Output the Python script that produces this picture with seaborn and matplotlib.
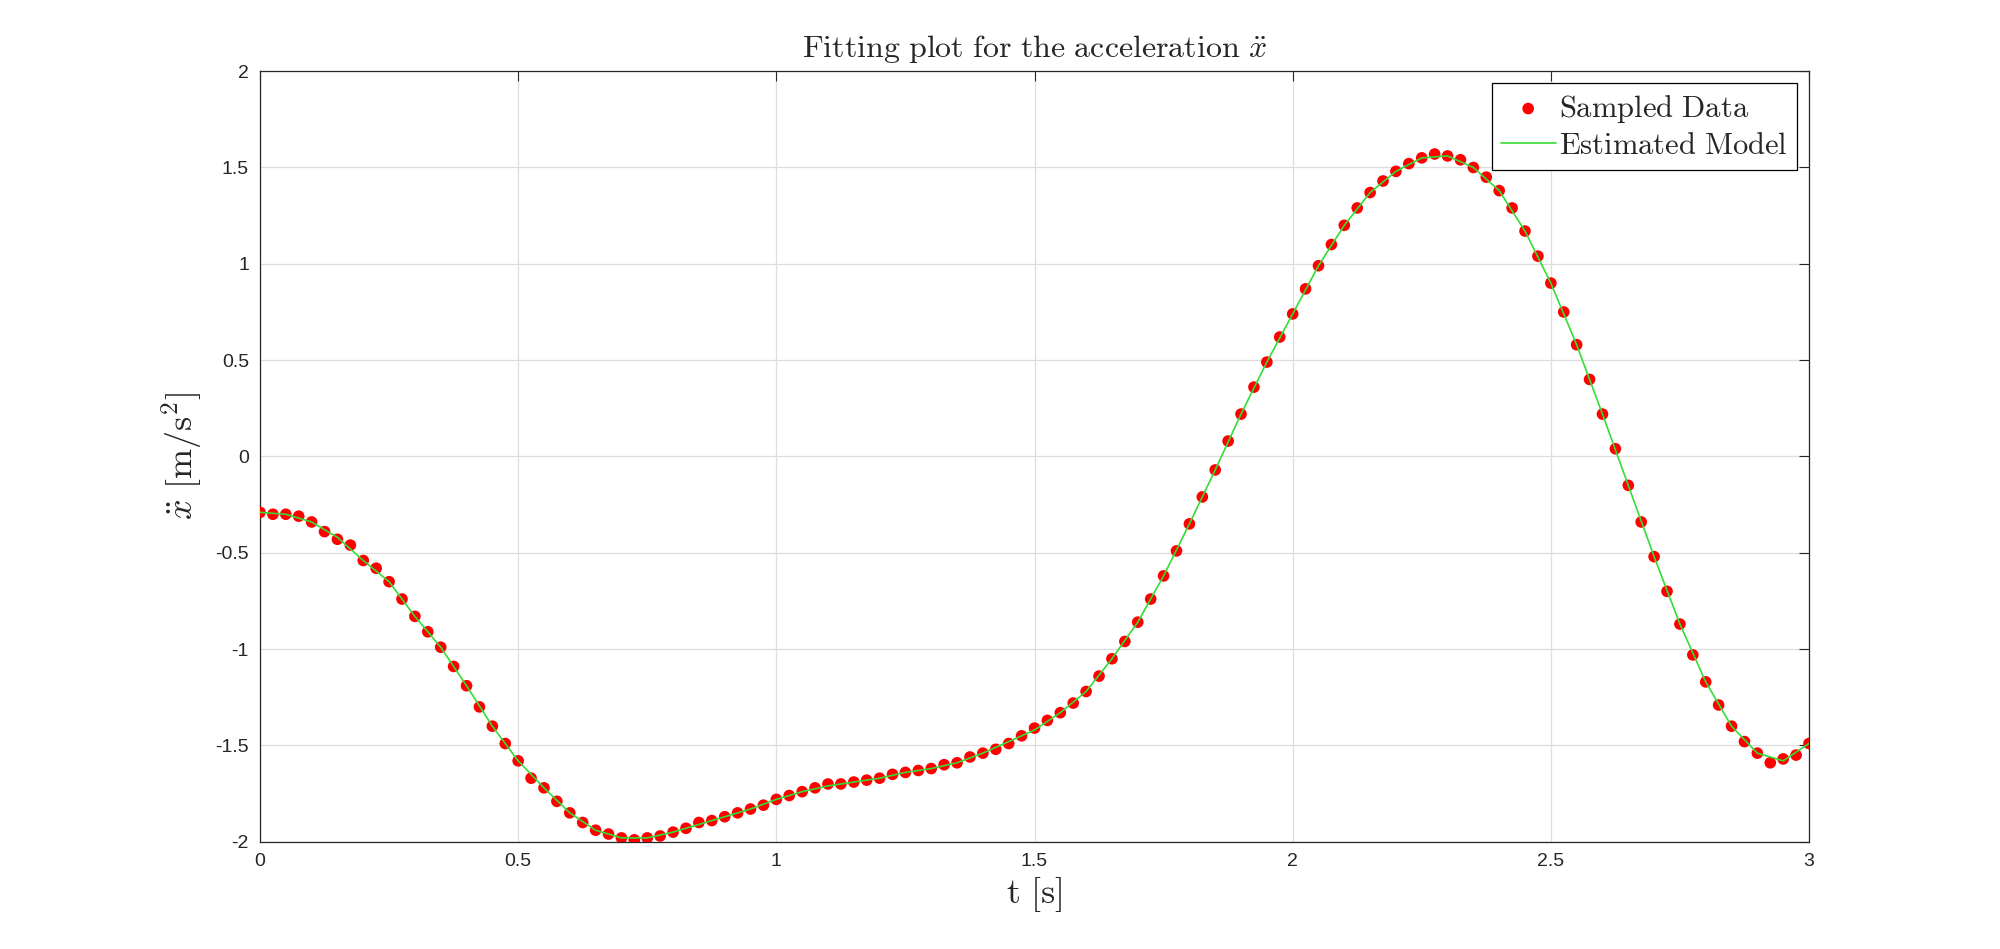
import numpy as np
import pandas as pd
import matplotlib
matplotlib.use("Agg")
import matplotlib.pyplot as plt
import seaborn as sns

# sampled acceleration, every 0.025 s from 0 to 3 s
sampled_acc = [-0.29, -0.30, -0.30, -0.31, -0.34, -0.39, -0.43, -0.46, -0.54, -0.58,
               -0.65, -0.74, -0.83, -0.91, -0.99, -1.09, -1.19, -1.30, -1.40, -1.49,
               -1.58, -1.67, -1.72, -1.79, -1.85, -1.90, -1.94, -1.96, -1.98, -1.99,
               -1.98, -1.97, -1.95, -1.93, -1.90, -1.89, -1.87, -1.85, -1.83, -1.81,
               -1.78, -1.76, -1.74, -1.72, -1.70, -1.70, -1.69, -1.68, -1.67, -1.65,
               -1.64, -1.63, -1.62, -1.60, -1.59, -1.56, -1.54, -1.52, -1.49, -1.45,
               -1.41, -1.37, -1.33, -1.28, -1.22, -1.14, -1.05, -0.96, -0.86, -0.74,
               -0.62, -0.49, -0.35, -0.21, -0.07, 0.08, 0.22, 0.36, 0.49, 0.62,
               0.74, 0.87, 0.99, 1.10, 1.20, 1.29, 1.37, 1.43, 1.48, 1.52,
               1.55, 1.57, 1.56, 1.54, 1.50, 1.45, 1.38, 1.29, 1.17, 1.04,
               0.90, 0.75, 0.58, 0.40, 0.22, 0.04, -0.15, -0.34, -0.52, -0.70,
               -0.87, -1.03, -1.17, -1.29, -1.40, -1.48, -1.54, -1.59, -1.57, -1.55,
               -1.49]
# estimated model, every 0.05 s
model_acc = [-0.29, -0.30, -0.34, -0.42, -0.54, -0.65, -0.83, -0.99, -1.19, -1.40,
             -1.58, -1.72, -1.85, -1.94, -1.98, -1.98, -1.95, -1.91, -1.87, -1.83,
             -1.78, -1.74, -1.71, -1.69, -1.67, -1.64, -1.62, -1.59, -1.54, -1.48,
             -1.42, -1.33, -1.22, -1.05, -0.86, -0.62, -0.35, -0.07, 0.22, 0.49,
             0.74, 0.99, 1.20, 1.37, 1.48, 1.55, 1.56, 1.50, 1.38, 1.17,
             0.90, 0.58, 0.22, -0.15, -0.52, -0.87, -1.17, -1.40, -1.54, -1.58,
             -1.49]

df_s = pd.DataFrame({"t": np.linspace(0, 3, len(sampled_acc)), "a": sampled_acc})
df_m = pd.DataFrame({"t": np.linspace(0, 3, len(model_acc)), "a": model_acc})

sns.set_style("white")
plt.rcParams["font.family"] = ["Liberation Sans", "DejaVu Sans"]
plt.rcParams["mathtext.fontset"] = "cm"

fig = plt.figure(figsize=(20, 9.49), dpi=100)
ax = fig.add_axes([0.130, 0.113, 0.7745, 0.812])

sns.scatterplot(data=df_s, x="t", y="a", ax=ax, color="red", s=70, edgecolor="none",
                label=r"$\mathrm{Sampled\ Data}$", zorder=3)
sns.lineplot(data=df_m, x="t", y="a", ax=ax, color="#33dd33", linewidth=1.2,
             label=r"$\mathrm{Estimated\ Model}$", zorder=4)

ax.set_xlim(0, 3)
ax.set_ylim(-2, 2)
ax.set_xticks(np.arange(0, 3.01, 0.5))
ax.set_yticks(np.arange(-2, 2.01, 0.5))
ax.set_xticklabels(["0", "0.5", "1", "1.5", "2", "2.5", "3"])
ax.set_yticklabels(["-2", "-1.5", "-1", "-0.5", "0", "0.5", "1", "1.5", "2"])
ax.tick_params(direction="in", top=True, right=True, labelsize=14, length=7, pad=8)
ax.grid(True, color="#dddddd", linewidth=0.9)
for sp in ax.spines.values():
    sp.set_color("#262626")
    sp.set_linewidth(0.9)

ax.set_title(r"$\mathrm{Fitting\ plot\ for\ the\ acceleration\ }\ddot{x}$", fontsize=23, pad=10)
ax.set_xlabel(r"$\mathrm{t\ [s]}$", fontsize=26, labelpad=4)
ax.set_ylabel(r"$\ddot{x}\ \mathrm{[m/s^2]}$", fontsize=26, labelpad=8)

leg = ax.legend(loc="upper right", fontsize=22, frameon=True, fancybox=False,
                borderaxespad=0.4, handletextpad=0.1, borderpad=0.3, labelspacing=0.2,
                handlelength=1.8, framealpha=1)
leg.get_frame().set_edgecolor("black")
leg.get_frame().set_linewidth(0.9)

fig.savefig("out.png", dpi=100, facecolor="white")
